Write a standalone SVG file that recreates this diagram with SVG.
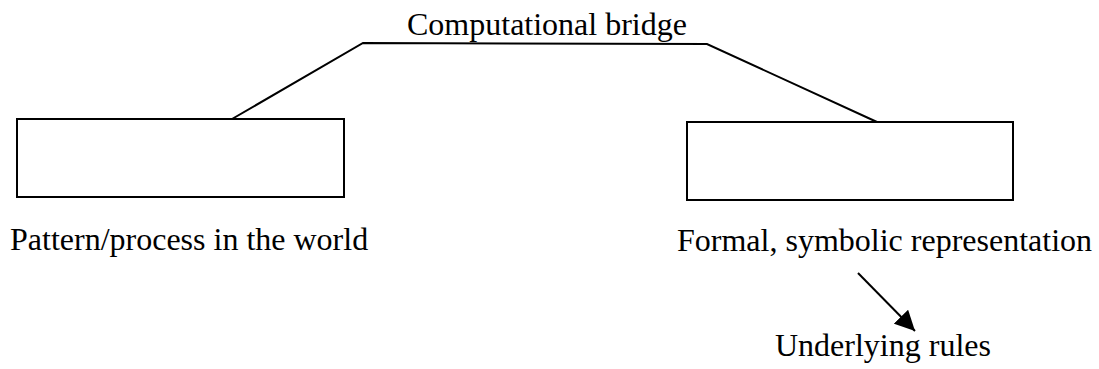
<svg xmlns="http://www.w3.org/2000/svg" width="1099" height="369" viewBox="0 0 1099 369">
  <style>
    .box { fill: #fff; stroke: #000; stroke-width: 2; }
    .line { fill: none; stroke: #000; stroke-width: 2; }
    .label { font-family: "Liberation Serif", "Times New Roman", serif; font-size: 32px; fill: #000; }
  </style>
  <defs>
    <marker id="arrowhead" viewBox="0 0 20 20" refX="20" refY="10" markerWidth="20" markerHeight="20" markerUnits="userSpaceOnUse" orient="auto">
      <path d="M0,0 L20,10 L0,20 z" fill="#000"/>
    </marker>
  </defs>
  <rect width="1099" height="369" fill="#fff"/>

  <g id="connectors">
    <polyline class="line" points="232,119 363,43 707,44 877,122"/>
    <line class="line" x1="858" y1="273" x2="915" y2="331" marker-end="url(#arrowhead)"/>
  </g>

  <g id="bridge">
    <text class="label" x="407" y="35">Computational bridge</text>
  </g>

  <g id="world">
    <rect class="box" x="17" y="119" width="327" height="78"/>
    <text class="label" x="10" y="250">Pattern/process in the world</text>
  </g>

  <g id="representation">
    <rect class="box" x="687" y="122" width="326" height="78"/>
    <text class="label" x="677" y="251">Formal, symbolic representation</text>
  </g>

  <g id="rules">
    <text class="label" x="775" y="356">Underlying rules</text>
  </g>
</svg>
